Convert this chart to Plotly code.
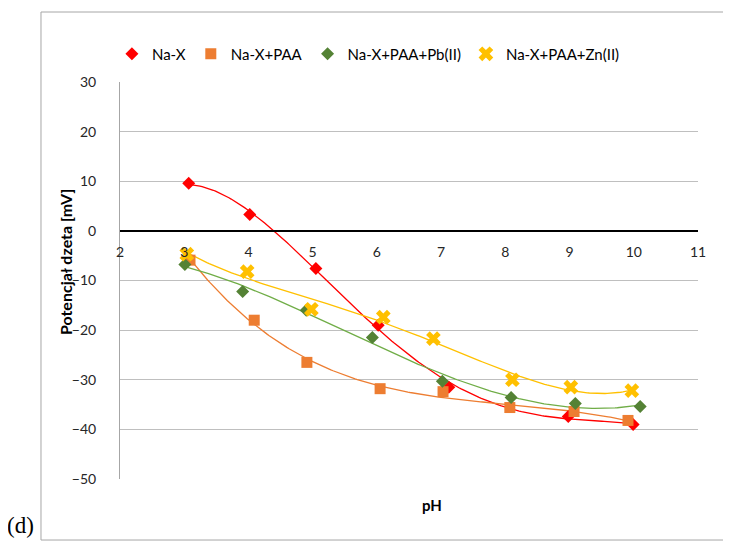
import numpy as np
import plotly.graph_objects as go

# ---- data ----
ph_nax = [3.07, 4.02, 5.05, 6.02, 7.12, 8.98, 9.99]
zeta_nax = [9.6, 3.3, -7.6, -19.0, -31.5, -37.4, -39.0]

ph_paa = [3.09, 4.09, 4.91, 6.05, 7.03, 8.07, 9.07, 9.91]
zeta_paa = [-5.9, -18.0, -26.5, -31.8, -32.4, -35.6, -36.4, -38.2]

ph_pb = [3.01, 3.91, 4.90, 5.93, 7.02, 8.09, 9.09, 10.10]
zeta_pb = [-6.8, -12.2, -16.0, -21.5, -30.3, -33.6, -34.8, -35.4]

ph_zn = [3.04, 3.98, 4.98, 6.10, 6.88, 8.11, 9.02, 9.97]
zeta_zn = [-4.7, -8.2, -15.8, -17.4, -21.7, -30.0, -31.5, -32.2]

series_names = ["Na-X", "Na-X+PAA", "Na-X+PAA+Pb(II)", "Na-X+PAA+Zn(II)"]
x_ticks = list(range(2, 12))
y_ticks = list(range(-50, 31, 10))

series = [
    (series_names[0], ph_nax, zeta_nax, "#FF0000", "#FF0000", "diamond", 10, 4),
    (series_names[1], ph_paa, zeta_paa, "#ED7D31", "#ED7D31", "square", 11, 4),
    (series_names[2], ph_pb, zeta_pb, "#548235", "#70AD47", "diamond", 10, 4),
    (series_names[3], ph_zn, zeta_zn, "#FFC000", "#FFC000", "x", 13, 4),
]

fig = go.Figure()
# polynomial trendlines (Excel-style)
for name, xs, ys, mcol, lcol, sym, size, deg in series:
    coef = np.polyfit(xs, ys, deg)
    xf = np.linspace(min(xs), max(xs), 200)
    fig.add_trace(go.Scatter(x=xf, y=np.polyval(coef, xf), mode="lines",
                             line=dict(color=lcol, width=1.3), showlegend=False,
                             hoverinfo="skip"))
for name, xs, ys, mcol, lcol, sym, size, deg in series:
    fig.add_trace(go.Scatter(x=xs, y=ys, mode="markers", name=name,
                             marker=dict(color=mcol, symbol=sym, size=size,
                                         line=dict(width=0))))

font_main = "Lato, Liberation Sans, sans-serif"
border = dict(color="#A6A6A6", width=1)
bx0, bx1, by0, by1 = -0.1367, 1.06, -0.1537, 1.1763

fig.update_layout(
    width=723, height=537,
    margin=dict(l=112, r=33, t=74, b=66, autoexpand=False),
    paper_bgcolor="white", plot_bgcolor="white",
    font=dict(family=font_main, size=13, color="#262626"),
    legend=dict(orientation="h", x=-0.014, y=1.112, xanchor="left", yanchor="top",
                font=dict(size=15, color="#000000"), itemwidth=30,
                bgcolor="rgba(0,0,0,0)"),
    xaxis=dict(range=[2, 11], tickvals=x_ticks, showgrid=False, zeroline=False,
               anchor="free", position=0.625, showline=True, linecolor="black",
               linewidth=2, ticks="", ticklabelstandoff=8,
               tickfont=dict(size=14, color="#262626")),
    yaxis=dict(range=[-50, 30], tickvals=y_ticks, showgrid=True, gridcolor="#BFBFBF",
               gridwidth=1, zeroline=False, showline=True, linecolor="#A6A6A6",
               linewidth=1, ticks="", ticklabelstandoff=20,
               tickfont=dict(size=14, color="#262626")),
    shapes=[
        dict(type="line", xref="paper", yref="paper", x0=bx0, x1=bx0, y0=by0, y1=by1,
             line=border, layer="below"),
        dict(type="line", xref="paper", yref="paper", x0=bx0, x1=bx1, y0=by1, y1=by1,
             line=border, layer="below"),
        dict(type="line", xref="paper", yref="paper", x0=bx0, x1=bx1, y0=by0, y1=by0,
             line=border, layer="below"),
    ],
    annotations=[
        dict(text="<b>pH</b>", xref="paper", yref="paper", x=0.54, y=-0.066,
             xanchor="center", yanchor="middle",
             showarrow=False, font=dict(size=15, color="#000000")),
        dict(text="<b>Potencjał dzeta [mV]</b>", xref="paper", yref="paper",
             x=-0.093, y=0.547, xanchor="center", yanchor="middle",
             textangle=-90, showarrow=False,
             font=dict(size=16, color="#000000")),
        dict(text="(d)", xref="paper", yref="paper", x=-0.172, y=-0.118,
             xanchor="center", yanchor="middle",
             showarrow=False,
             font=dict(family="Liberation Serif, Times New Roman, serif", size=23,
                       color="#000000")),
    ],
)

fig.write_html("out.html")
